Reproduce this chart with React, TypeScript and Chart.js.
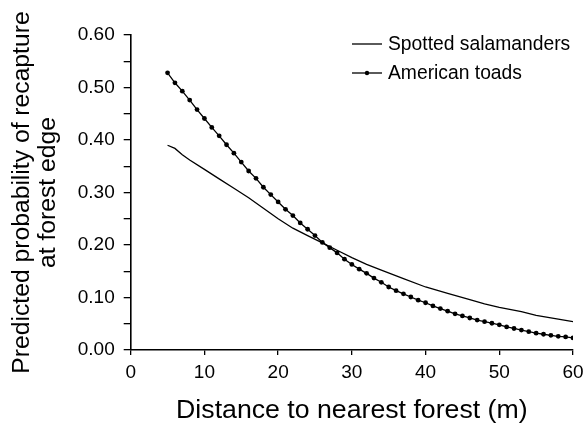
import React, { useEffect, useRef } from "react";
import { Chart, registerables } from "chart.js";

Chart.register(...registerables);

const toadDist = [5, 6, 7, 8, 9, 10, 11, 12, 13, 14, 15, 16, 17, 18, 19, 20, 21, 22, 23, 24, 25, 26, 27, 28, 29, 30, 31, 32, 33, 34, 35, 36, 37, 38, 39, 40, 41, 42, 43, 44, 45, 46, 47, 48, 49, 50, 51, 52, 53, 54, 55, 56, 57, 58, 59, 60];
const toadProb = [0.528, 0.509, 0.493, 0.476, 0.458, 0.441, 0.424, 0.408, 0.391, 0.375, 0.358, 0.341, 0.327, 0.31, 0.296, 0.282, 0.268, 0.256, 0.242, 0.23, 0.218, 0.205, 0.195, 0.185, 0.173, 0.163, 0.154, 0.146, 0.137, 0.129, 0.12, 0.113, 0.107, 0.101, 0.095, 0.09, 0.084, 0.079, 0.074, 0.069, 0.065, 0.061, 0.057, 0.054, 0.051, 0.048, 0.044, 0.041, 0.038, 0.035, 0.032, 0.03, 0.028, 0.026, 0.025, 0.023];

const salDist = [5, 6, 7, 8, 10, 12, 14, 16, 18, 20, 22, 24, 26, 28, 30, 32, 34, 37, 40, 43, 46, 48, 50, 53, 55, 58, 60];
const salProb = [0.39, 0.384, 0.372, 0.362, 0.344, 0.326, 0.308, 0.29, 0.27, 0.25, 0.232, 0.218, 0.204, 0.19, 0.176, 0.163, 0.152, 0.136, 0.12, 0.108, 0.096, 0.088, 0.081, 0.073, 0.066, 0.059, 0.054];

const seriesLabels = ["Spotted salamanders", "American toads"];
const xTitle = "Distance to nearest forest (m)";
const yTitle = ["Predicted probability of recapture", "at forest edge"];

const FONT = "'Liberation Sans', Arial, Helvetica, sans-serif";

const legendPlugin = {
  id: "customLegend",
  afterDraw(chart: any) {
    const ctx = chart.ctx;
    const ds = chart.data.datasets;
    const x0 = 352;
    const rows = [44, 73];
    ctx.save();
    ctx.font = `19.3px ${FONT}`;
    ctx.fillStyle = "#000";
    ctx.strokeStyle = "#000";
    ctx.textBaseline = "middle";
    ds.forEach((d: any, i: number) => {
      const y = rows[i];
      ctx.lineWidth = 1.3;
      ctx.beginPath();
      ctx.moveTo(x0, y);
      ctx.lineTo(x0 + 30, y);
      ctx.stroke();
      if (d.pointRadius > 0) {
        ctx.beginPath();
        ctx.arc(x0 + 15, y, 2.2, 0, Math.PI * 2);
        ctx.fill();
      }
      ctx.fillText(d.label, x0 + 36, y + 1);
    });
    ctx.restore();
  },
};

export default function App() {
  const ref = useRef<HTMLCanvasElement | null>(null);
  useEffect(() => {
    if (!ref.current) return;
    const chart = new Chart(ref.current, {
      type: "line",
      data: {
        datasets: [
          {
            label: seriesLabels[0],
            data: salDist.map((x, i) => ({ x, y: salProb[i] })),
            borderColor: "#000",
            borderWidth: 1.3,
            pointRadius: 0,
            fill: false,
            tension: 0,
          },
          {
            label: seriesLabels[1],
            data: toadDist.map((x, i) => ({ x, y: toadProb[i] })),
            borderColor: "#000",
            borderWidth: 1.3,
            pointRadius: 2.4,
            pointBackgroundColor: "#000",
            pointBorderColor: "#000",
            pointBorderWidth: 0,
            fill: false,
            tension: 0,
          },
        ],
      },
      options: {
        animation: false,
        responsive: false,
        maintainAspectRatio: false,
        layout: { padding: { top: 35, right: 10, left: 0, bottom: 0 } },
        plugins: {
          legend: { display: false },
          tooltip: { enabled: false },
        },
        scales: {
          x: {
            type: "linear",
            min: 0,
            max: 60,
            afterFit: (s: any) => {
              s.height = 77;
              s.paddingRight = 0;
              s.paddingLeft = 0;
            },
            ticks: {
              stepSize: 10,
              color: "#000",
              font: { family: FONT, size: 19 },
              padding: 6,
              maxRotation: 0,
            },
            grid: {
              drawOnChartArea: false,
              drawTicks: true,
              tickLength: 5,
              color: "#000",
              lineWidth: 1.3,
            },
            border: { display: true, color: "#000", width: 1.6 },
            title: {
              display: true,
              text: xTitle,
              color: "#000",
              font: { family: FONT, size: 26.7, lineHeight: 1 },
              padding: { top: 0, bottom: 3 },
            },
          },
          y: {
            type: "linear",
            min: 0,
            max: 0.6,
            afterFit: (s: any) => {
              s.width = 130.7;
            },
            ticks: {
              stepSize: 0.05,
              color: "#000",
              font: { family: FONT, size: 19 },
              padding: 9,
              callback: (v: any) => {
                const n = Math.round(Number(v) * 100);
                return n % 10 === 0 ? (n / 100).toFixed(2) : "";
              },
            },
            grid: {
              drawOnChartArea: false,
              drawTicks: true,
              tickLength: 7,
              color: "#000",
              lineWidth: 1.3,
            },
            border: { display: true, color: "#000", width: 1.6 },
            title: {
              display: true,
              text: yTitle,
              color: "#000",
              font: { family: FONT, size: 24.7, lineHeight: 1.05 },
              padding: { top: 9, bottom: 0 },
            },
          },
        },
      },
      plugins: [legendPlugin],
    });
    return () => chart.destroy();
  }, []);
  return (
    <div style={{ position: "fixed", left: 0, top: 0, width: 583, height: 427, background: "#fff" }}>
      <canvas ref={ref} width={583} height={427} style={{ display: "block", width: 583, height: 427 }} />
    </div>
  );
}
